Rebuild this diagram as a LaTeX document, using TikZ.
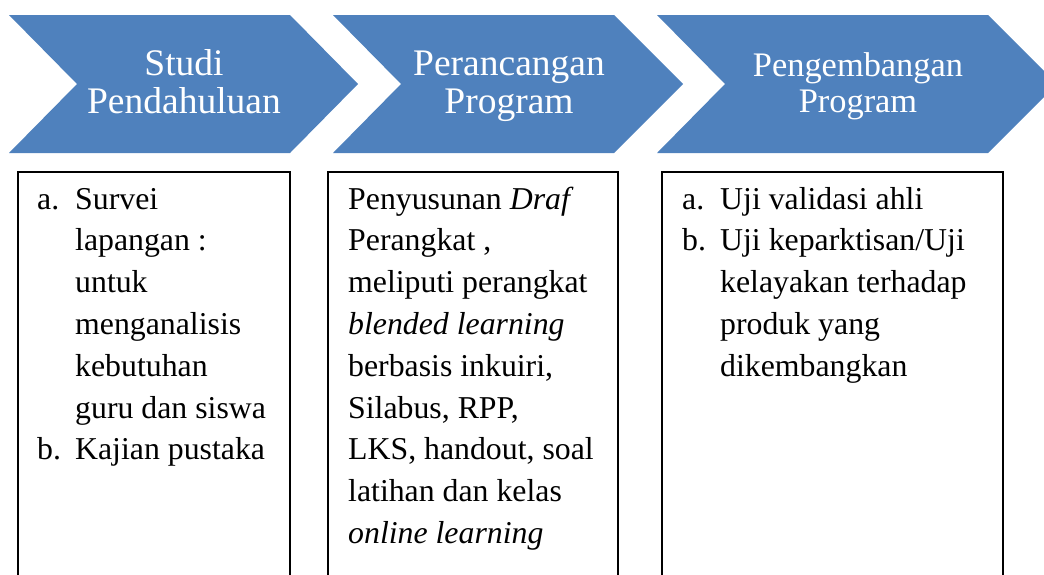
\documentclass[tikz,border=0pt]{standalone}
\usepackage{fontspec}
\setmainfont{Liberation Serif}
\definecolor{chevblue}{RGB}{79,129,189}
% fixed-width column for the list labels
\newcommand\itemlbl[1]{\makebox[38pt][l]{#1}}

\begin{document}
\begin{tikzpicture}[x=1pt,y=-1pt,
  chevron/.style={fill=chevblue},
  steptext/.style={text=white, inner sep=0pt, anchor=base,
    font=\fontsize{37.5}{38}\selectfont},
  itembox/.style={draw=black, line width=1.8pt, inner sep=0pt,
    anchor=north west, minimum height=460pt},
  itemtext/.style={inner sep=0pt, anchor=base west, text=black,
    font=\fontsize{31.8}{41.8}\selectfont}]
\clip (0,0) rectangle (1044,574);

% process chevrons
\fill[chevron] (9,15) -- (290,15) -- (358,84) -- (290,153) -- (9,153) -- (77,84) -- cycle;
\fill[chevron] (333,15) -- (614,15) -- (683,84) -- (614,153) -- (333,153) -- (401,84) -- cycle;
\fill[chevron] (657,15) -- (988,15) -- (1057,84) -- (988,153) -- (657,153) -- (725,84) -- cycle;

\node[steptext] (s1) at (184,75) {\begin{tabular}[t]{@{}c@{}}Studi\\Pendahuluan\end{tabular}};
\node[steptext] (s2) at (509,75) {\begin{tabular}[t]{@{}c@{}}Perancangan\\Program\end{tabular}};
\node[steptext, font=\fontsize{34.4}{36}\selectfont] (s3) at (858,76)
  {\begin{tabular}[t]{@{}c@{}}Pengembangan\\Program\end{tabular}};

% detail boxes (open at the bottom edge of the page)
\node[itembox, minimum width=272pt] (b1) at (17,171) {};
\node[itembox, minimum width=290pt] (b2) at (327,171) {};
\node[itembox, minimum width=341pt] (b3) at (661,171) {};

\node[itemtext] (t1) at (37,209) {\begin{tabular}[t]{@{}l@{}l@{}}
\itemlbl{a.} & Survei\\
 & lapangan :\\
 & untuk\\
 & menganalisis\\
 & kebutuhan\\
 & guru dan siswa\\
\itemlbl{b.} & Kajian pustaka
\end{tabular}};

\node[itemtext] (t2) at (348,209) {\begin{tabular}[t]{@{}l@{}}
Penyusunan \textit{Draf}\\
Perangkat ,\\
meliputi perangkat\\
\textit{blended learning}\\
berbasis inkuiri,\\
Silabus, RPP,\\
LKS, handout, soal\\
latihan dan kelas\\
\textit{online learning}
\end{tabular}};

\node[itemtext] (t3) at (682,209) {\begin{tabular}[t]{@{}l@{}l@{}}
\itemlbl{a.} & Uji validasi ahli\\
\itemlbl{b.} & Uji keparktisan/Uji\\
 & kelayakan terhadap\\
 & produk yang\\
 & dikembangkan
\end{tabular}};
\end{tikzpicture}
\end{document}
